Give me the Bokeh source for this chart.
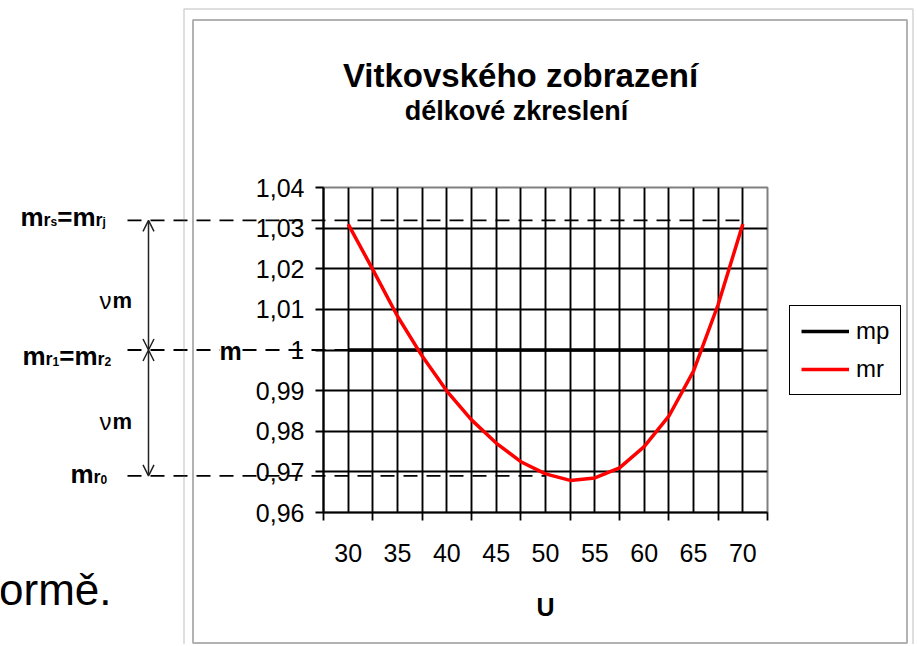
import numpy as np
from bokeh.plotting import figure
from bokeh.models import (Range1d, FixedTicker, CustomJSTickFormatter, Legend, LegendItem,
                          Label, Arrow, OpenHead, BoxAnnotation, GridBox)
from bokeh.embed import file_html
from bokeh.resources import INLINE

# ---------------- data ----------------
u = [30, 32.5, 35, 37.5, 40, 42.5, 45, 47.5, 50, 52.5, 55, 57.5, 60, 62.5, 65, 67.5, 70]
mp = [1.0, 1.0, 1.0, 1.0, 1.0, 1.0, 1.0, 1.0, 1.0, 1.0, 1.0, 1.0, 1.0, 1.0, 1.0, 1.0, 1.0]
mr = [1.031, 1.0198, 1.0083, 0.9985, 0.9899, 0.9828, 0.9771, 0.9725, 0.9695, 0.9679,
      0.9685, 0.9710, 0.9762, 0.9837, 0.9948, 1.0112, 1.031]
x_label_ticks = [30, 35, 40, 45, 50, 55, 60, 65, 70]
x_tick_marks = [27.5, 32.5, 37.5, 42.5, 47.5, 52.5, 57.5, 62.5, 67.5, 72.5]
x_grid_ticks = [30, 32.5, 35, 37.5, 40, 42.5, 45, 47.5, 50, 52.5, 55, 57.5, 60, 62.5, 65, 67.5, 70]
y_ticks = [0.96, 0.97, 0.98, 0.99, 1.0, 1.01, 1.02, 1.03, 1.04]
y_grid_ticks = [0.97, 0.98, 0.99, 1.0, 1.01, 1.02, 1.03]
X_LO, X_HI = 27.5, 72.5
Y_LO, Y_HI = 0.96, 1.04
ref_levels = [1.0319, 1.0, 0.969]        # m_rs = m_rj, m_r1 = m_r2, m_r0
ref_ends = [70, 30, 50]                  # where each dashed level line stops (U)
NU_TOP, NU_MID, NU_BOTTOM = ref_levels

FONT = "Liberation Sans"

# ---------------- layout (page pixels) ----------------
W, H = 915, 644
FL, FR, FT, FB = 323, 767, 187, 512   # plot frame edges on the page


def xd(px):
    return X_LO + (px - FL) * (X_HI - X_LO) / (FR - FL)


def yd(py):
    return Y_HI - (py - FT) * (Y_HI - Y_LO) / (FB - FT)


def ymid(baseline, size):
    # Label is centred vertically on its em box: shift from a baseline position
    return yd(baseline - 0.3465 * size)


# ---------------- main chart (axes, grid, series) ----------------
p = figure(width=W, height=H, x_range=Range1d(X_LO, X_HI), y_range=Range1d(Y_LO, Y_HI),
           output_backend="svg", toolbar_location=None, title_location=None,
           min_border_left=FL, min_border_right=W - FR,
           min_border_top=FT, min_border_bottom=H - FB)
p.frame_align = False
p.background_fill_color = "white"
p.border_fill_color = "white"
p.outline_line_color = "#808080"
p.outline_line_width = 2

p.xgrid.ticker = FixedTicker(ticks=x_grid_ticks)
p.ygrid.ticker = FixedTicker(ticks=y_grid_ticks)
for g in (p.xgrid, p.ygrid):
    g.grid_line_color = "black"
    g.grid_line_width = 1.9
    g.grid_line_alpha = 1.0

xa = p.xaxis[0]
xa.ticker = FixedTicker(ticks=x_label_ticks, minor_ticks=x_tick_marks)
xa.major_tick_line_color = None
xa.major_tick_out = 8
xa.major_tick_in = 0
xa.minor_tick_line_color = "black"
xa.minor_tick_line_width = 1.8
xa.minor_tick_out = 8
xa.minor_tick_in = 0
xa.axis_line_color = "black"
xa.axis_line_width = 2.2
xa.major_label_standoff = 23
xa.major_label_text_font = FONT
xa.major_label_text_font_size = "25px"
xa.major_label_text_color = "black"
xa.axis_label = "U"
xa.axis_label_text_font = FONT
xa.axis_label_text_font_style = "bold"
xa.axis_label_text_font_size = "25px"
xa.axis_label_text_color = "black"
xa.axis_label_standoff = 28

ya = p.yaxis[0]
ya.ticker = FixedTicker(ticks=y_ticks)
ya.formatter = CustomJSTickFormatter(
    code="const s = tick.toFixed(2); return (s.endsWith('.00') ? s.slice(0, -3) : s).replace('.', ',');")
ya.major_tick_line_color = "black"
ya.major_tick_line_width = 1.8
ya.major_tick_out = 8
ya.major_tick_in = 0
ya.minor_tick_line_color = None
ya.axis_line_color = "black"
ya.axis_line_width = 2.2
ya.major_label_standoff = 11
ya.major_label_text_font = FONT
ya.major_label_text_font_size = "25px"
ya.major_label_text_color = "black"

p.line(u, mp, line_color="black", line_width=3.5)
p.line(u, mr, line_color="#ff0000", line_width=3.5)

# ---------------- overlay (same data mapping, whole page as frame) ----------------
q = figure(width=W, height=H, x_range=Range1d(xd(0), xd(W)), y_range=Range1d(yd(H), yd(0)),
           output_backend="svg", toolbar_location=None, title_location=None,
           x_axis_type=None, y_axis_type=None, min_border=0)
q.frame_align = False
q.background_fill_alpha = 0
q.border_fill_alpha = 0
q.outline_line_color = None

# chart-area frames
q.add_layout(BoxAnnotation(left=xd(183.5), right=xd(912.5), top=yd(8.5), bottom=yd(660),
                           fill_color=None, fill_alpha=0, line_color="#707070", line_width=1.5))
q.add_layout(BoxAnnotation(left=xd(192.5), right=xd(906.5), top=yd(19.5), bottom=yd(642.5),
                           fill_color=None, fill_alpha=0, line_color="black", line_width=2))

# legend (proxy renderers with no visible points, carrying the series styles)
lg_mp = q.line(x=np.array([np.nan]), y=np.array([np.nan]), line_color="black", line_width=3.5)
lg_mr = q.line(x=np.array([np.nan]), y=np.array([np.nan]), line_color="#ff0000", line_width=3.5)
legend = Legend(items=[LegendItem(label="mp", renderers=[lg_mp]),
                       LegendItem(label="mr", renderers=[lg_mr])],
                location=(789, H - 395))
legend.border_line_color = "black"
legend.border_line_width = 1.8
legend.border_line_alpha = 1.0
legend.background_fill_color = "white"
legend.background_fill_alpha = 1.0
legend.label_text_font = FONT
legend.label_text_font_size = "24px"
legend.label_text_color = "black"
legend.glyph_width = 48
legend.glyph_height = 28
legend.label_height = 28
legend.label_standoff = 7
legend.spacing = 10
legend.padding = 11
legend.margin = 0
q.add_layout(legend)

# titles
q.add_layout(Label(x=xd(520), y=yd(75), text="Vitkovského zobrazení", text_align="center",
                   text_baseline="middle", text_font=FONT, text_font_style="bold",
                   text_font_size="33px", text_color="black"))
q.add_layout(Label(x=xd(516), y=yd(110), text="délkové zkreslení", text_align="center",
                   text_baseline="middle", text_font=FONT, text_font_style="bold",
                   text_font_size="27px", text_color="black"))

# dashed level lines
q.segment(x0=[xd(127)] * len(ref_levels), y0=ref_levels, x1=ref_ends, y1=ref_levels,
          line_color="black", line_width=1.8, line_dash="14 9")

# dimension arrows
for y0, y1 in ((NU_MID, NU_TOP), (NU_BOTTOM, NU_MID)):
    q.add_layout(Arrow(x_start=xd(148), y_start=y0, x_end=xd(148), y_end=y1,
                       start=OpenHead(size=11, line_color="#222222", line_width=1.5),
                       end=OpenHead(size=11, line_color="#222222", line_width=1.5),
                       line_color="#222222", line_width=1.5))

BOLD_W = {"m": 0.889, "r": 0.389, "s": 0.556, "j": 0.278, "=": 0.584,
          "0": 0.556, "1": 0.556, "2": 0.556}


def compound(parts, px, baseline):
    for txt, size in parts:
        q.add_layout(Label(x=xd(px), y=ymid(baseline, size), text=txt, text_align="left",
                           text_baseline="middle", text_font=FONT, text_font_style="bold",
                           text_font_size=f"{size}px", text_color="black"))
        px += sum(BOLD_W[c] for c in txt) * size


compound([("m", 26), ("r", 18), ("s", 12), ("=", 26), ("m", 26), ("r", 18), ("j", 12)], 20, 226)
compound([("m", 26), ("r", 18), ("1", 12), ("=", 26), ("m", 26), ("r", 18), ("2", 12)], 22, 365)
compound([("m", 26), ("r", 18), ("0", 12)], 70, 483)

for base in (308, 429):
    q.add_layout(Label(x=xd(99), y=ymid(base, 24), text="ν", text_baseline="middle",
                       text_font=FONT, text_font_size="24px", text_color="black"))
    q.add_layout(Label(x=xd(112), y=ymid(base, 22), text="m", text_baseline="middle",
                       text_font=FONT, text_font_style="bold", text_font_size="22px",
                       text_color="black"))

q.add_layout(Label(x=xd(219), y=ymid(359, 25), text="m", text_baseline="middle",
                   text_font=FONT, text_font_style="bold", text_font_size="25px",
                   text_color="black", background_fill_color="white", background_fill_alpha=1.0))

# slide text cut at the left edge
q.add_layout(Label(x=xd(111), y=ymid(604, 44), text="ormě.", text_align="right",
                   text_baseline="middle", text_font=FONT, text_font_size="44px",
                   text_color="black"))

layout = GridBox(children=[(p, 0, 0), (q, 0, 0)])
open("out.html", "w").write(file_html(layout, INLINE))
